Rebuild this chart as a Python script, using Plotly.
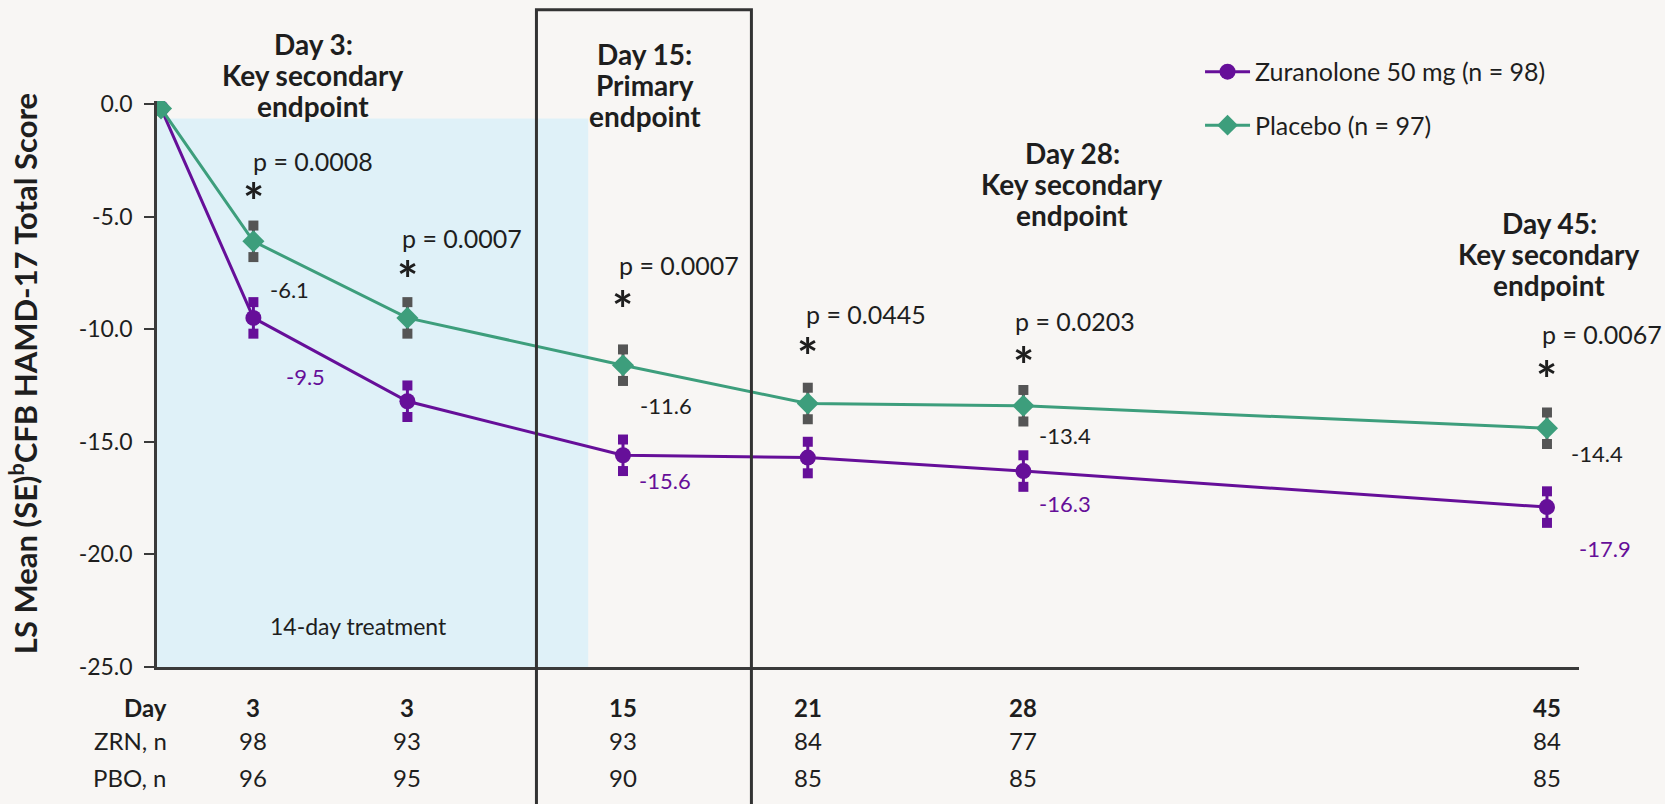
import plotly.graph_objects as go

# ---- data ----
days = [0, 3, 8, 15, 21, 28, 45]
zur_mean = [-0.2, -9.5, -13.2, -15.6, -15.7, -16.3, -17.9]
pbo_mean = [-0.2, -6.1, -9.5, -11.6, -13.3, -13.4, -14.4]
zur_se = [0, 0.7, 0.7, 0.7, 0.7, 0.7, 0.7]
pbo_se = [0, 0.7, 0.7, 0.7, 0.7, 0.7, 0.7]

zur_labels = ["", "-9.5", "", "-15.6", "", "-16.3", "-17.9"]
pbo_labels = ["", "-6.1", "", "-11.6", "", "-13.4", "-14.4"]
p_values = ["p = 0.0008", "p = 0.0007", "p = 0.0007", "p = 0.0445", "p = 0.0203", "p = 0.0067"]

table_days = ["3", "3", "15", "21", "28", "45"]
zrn_n = ["98", "93", "93", "84", "77", "84"]
pbo_n = ["96", "95", "90", "85", "85", "85"]

endpoint_labels = [
    ["Day 3:", "Key secondary", "endpoint"],
    ["Day 15:", "Primary", "endpoint"],
    ["Day 28:", "Key secondary", "endpoint"],
    ["Day 45:", "Key secondary", "endpoint"],
]

# ---- styles ----
PURPLE = "#660f99"
GREEN = "#3d9e7c"
GRAY = "#555555"
INK = "#1e1e1e"
BG = "#f8f6f4"
FONT = "Lato"

XR = [-0.13, 46.04]
YR = [-25, 0.13]


def px(d):
    return (d - XR[0]) / (XR[1] - XR[0])


def py(v):
    return (v - YR[0]) / (YR[1] - YR[0])


fig = go.Figure()

fig.add_trace(go.Scatter(
    x=days, y=zur_mean, mode="lines+markers", name="Zuranolone 50 mg (n = 98)",
    line=dict(color=PURPLE, width=3),
    marker=dict(symbol="circle", size=16, color=PURPLE),
    error_y=dict(type="data", array=zur_se, color=PURPLE, thickness=3, width=0),
    legendgroup="zur",
))
fig.add_trace(go.Scatter(
    x=days, y=pbo_mean, mode="lines+markers", name="Placebo (n = 97)",
    line=dict(color=GREEN, width=3),
    marker=dict(symbol="diamond", size=17, color=GREEN),
    error_y=dict(type="data", array=pbo_se, color=GRAY, thickness=3, width=0),
    legendgroup="pbo",
))

# square caps at the ends of the SE bars
for mean, se, col in [(zur_mean, zur_se, PURPLE), (pbo_mean, pbo_se, GRAY)]:
    xs, ys = [], []
    for d, m, s in zip(days, mean, se):
        if s > 0:
            xs += [d, d]
            ys += [m + s, m - s]
    fig.add_trace(go.Scatter(
        x=xs, y=ys, mode="markers", showlegend=False, hoverinfo="skip",
        marker=dict(symbol="square", size=10, color=col),
    ))

annotations = []


def note(x, y, text, size, color=INK, **kw):
    d = dict(x=x, y=y, xref="paper", yref="paper", text=text, showarrow=False,
             xanchor="center", yanchor="middle",
             font=dict(family=FONT, size=size, color=color))
    d.update(kw)
    annotations.append(d)


# endpoint headers (day, value at middle line); one annotation per line for tight spacing
hdr_pos = [(4.94, 1.3), (15.7, 0.85), (29.58, -3.55), (45.07, -6.65)]
LINE_STEP = 1.37
for lines, (x, y) in zip(endpoint_labels, hdr_pos):
    for k, ln in enumerate(lines):
        note(px(x), py(y + (1 - k) * LINE_STEP), "<b>" + ln + "</b>", 28)

# p-values and asterisks
p_pos = [(4.94, -2.55), (9.77, -5.94), (16.83, -7.17), (22.89, -9.34), (29.68, -9.62), (46.8, -10.2)]
star_y = [-3.85, -7.31, -8.68, -10.75, -11.13, -11.79]
for i, (txt, (x, y)) in enumerate(zip(p_values, p_pos)):
    note(px(x), py(y), txt, 25)
    note(px(days[i + 1]), py(star_y[i]), "<b>*</b>", 50, yshift=-10)

# value labels
pbo_lab_pos = [None, (4.18, -8.26), None, (16.41, -13.39), None, (29.34, -14.72), (46.63, -15.52)]
zur_lab_pos = [None, (4.7, -12.12), None, (16.38, -16.74), None, (29.34, -17.73), (46.87, -19.75)]
for labs, poss, col in [(pbo_labels, pbo_lab_pos, INK), (zur_labels, zur_lab_pos, PURPLE)]:
    for t, p in zip(labs, poss):
        if t and p:
            note(px(p[0]), py(p[1]), t, 22, col)

note(px(6.42), py(-23.2), "14-day treatment", 23)

# table under the axis
row_y = [-0.071, -0.130, -0.196]
row_names = ["<b>Day</b>", "ZRN, n", "PBO, n"]
rows = [["<b>" + d + "</b>" for d in table_days], zrn_n, pbo_n]
for ry, name, vals in zip(row_y, row_names, rows):
    note(px(0.25), ry, name, 24, xanchor="right")
    for d, v in zip(days[1:], vals):
        note(px(d), ry, v, 24)

# y-axis title
note(-0.094, 0.518, "<b>LS Mean (SE)<sup>b</sup>CFB HAMD-17 Total Score</b>", 31, textangle=-90)

shapes = [
    dict(type="rect", xref="x", yref="y", x0=-0.13, x1=13.87, y0=-25, y1=-0.65,
         fillcolor="#dff1f8", line=dict(width=0), layer="below"),
    dict(type="rect", xref="x", yref="paper", x0=12.19, x1=19.17, y0=-0.27, y1=1.161,
         line=dict(color="#333333", width=3), fillcolor="rgba(0,0,0,0)", layer="above"),
]

fig.update_layout(
    width=1665, height=804,
    paper_bgcolor=BG, plot_bgcolor=BG,
    margin=dict(l=157, r=86, t=101, b=137),
    font=dict(family=FONT, size=22, color=INK),
    xaxis=dict(range=XR, showgrid=False, zeroline=False, showline=True,
               linecolor="#3a3a3a", linewidth=2.5, showticklabels=False, ticks=""),
    yaxis=dict(range=YR, tickvals=[0, -5, -10, -15, -20, -25],
               ticktext=["0.0", "-5.0", "-10.0", "-15.0", "-20.0", "-25.0"],
               ticks="outside", ticklen=10, tickwidth=2, tickcolor="#3a3a3a",
               ticklabelstandoff=7,
               showline=True, linecolor="#3a3a3a", linewidth=2.5, showgrid=False, zeroline=False,
               tickfont=dict(family=FONT, size=23, color=INK)),
    legend=dict(x=0.7335, y=1.092, xanchor="left", yanchor="top", bgcolor="rgba(0,0,0,0)",
                font=dict(family=FONT, size=25, color=INK), tracegroupgap=18,
                traceorder="grouped", itemwidth=45),
    showlegend=True,
    annotations=annotations,
    shapes=shapes,
)

fig.write_html("out.html", config={"displayModeBar": False},
               post_script="document.body.style.margin='0';document.body.style.overflow='hidden';")
